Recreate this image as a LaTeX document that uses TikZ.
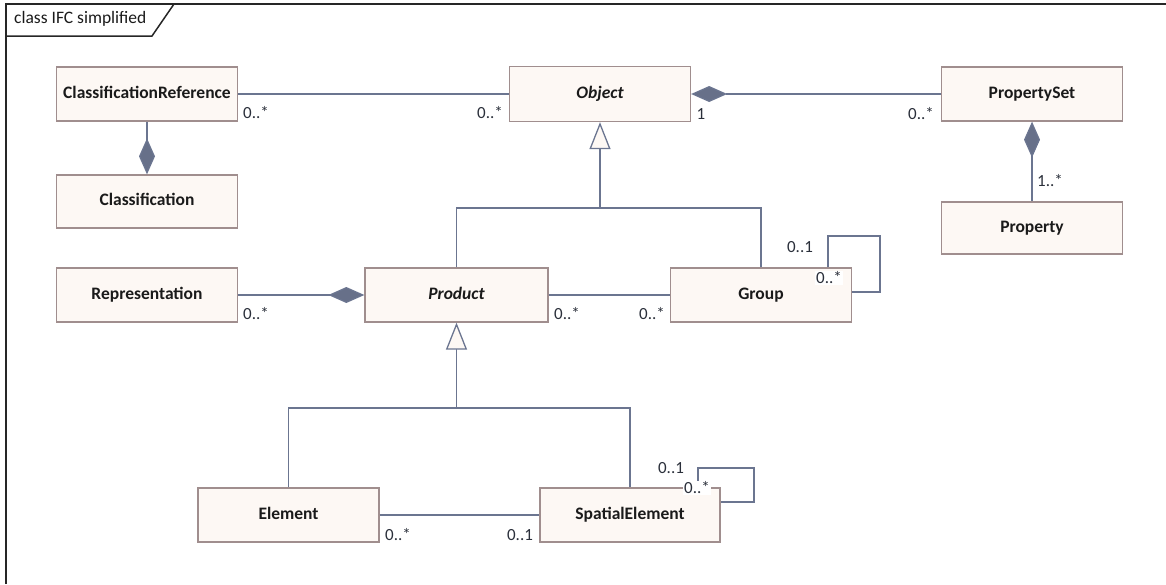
\documentclass[tikz,border=0pt]{standalone}
\usepackage{fontspec}
\setmainfont{Carlito}
\usetikzlibrary{arrows.meta}

\definecolor{boxfill}{HTML}{FDF8F4}
\definecolor{boxline}{HTML}{A08E8E}
\definecolor{linkcol}{HTML}{6B7590}
\definecolor{diamfill}{HTML}{677089}
\definecolor{txtcol}{HTML}{1A1A1A}
\definecolor{multcol}{HTML}{2A2F3A}

\tikzset{
  umlclass/.style={draw=boxline, fill=boxfill, line width=1.3pt, rectangle,
    minimum width=181pt, minimum height=54pt, inner sep=0pt,
    text height=12pt, text depth=3.5pt,
    font=\fontsize{17.5}{19}\selectfont\bfseries, text=txtcol},
  abstractclass/.style={umlclass, font=\fontsize{17.5}{19}\selectfont\bfseries\itshape},
  link/.style={draw=linkcol, line width=1.3pt},
  compo/.style={-{Diamond[length=36pt,width=16pt,fill=diamfill]}},
  compostart/.style={{Diamond[length=36pt,width=16pt,fill=diamfill]}-},
  gen/.style={-{Triangle[length=27pt,width=21pt,fill=boxfill]}},
  mult/.style={inner sep=1pt, font=\fontsize{17}{18}\selectfont, text=multcol},
  multbg/.style={mult, fill=white},
  frameline/.style={draw=black!85, line width=1.5pt}
}

\begin{document}
\begin{tikzpicture}[x=1pt, y=-1pt]
  \useasboundingbox (0,0) rectangle (1166,584);

  % diagram frame with its name tab
  \draw[frameline] (6,584) -- (6,4) -- (1166,4);
  \draw[frameline] (6,36) -- (152,36) -- (174,4);
  \node[anchor=west, inner sep=0pt, font=\fontsize{17.5}{19}\selectfont, text=txtcol] (title) at (14,19) {class IFC simplified};

  % classes
  \node[umlclass] (cr)   at (147,94)    {ClassificationReference};
  \node[abstractclass, minimum height=55pt] (obj) at (600,94) {Object};
  \node[umlclass] (ps)   at (1032,94)   {PropertySet};
  \node[umlclass, minimum height=52pt] (prop) at (1032,228) {Property};
  \node[umlclass, minimum height=53pt] (cls)  at (147,201.5) {Classification};
  \node[umlclass] (rep)  at (147,295)   {Representation};
  \node[abstractclass, minimum width=183pt] (prod) at (456.5,295) {Product};
  \node[umlclass] (grp)  at (761,295)   {Group};
  \node[umlclass] (el)   at (288.5,515) {Element};
  \node[umlclass, minimum width=180pt] (se) at (630,515) {SpatialElement};

  % associations and compositions
  \draw[link] (cr.east) -- (obj.west);
  \draw[link, compostart] (obj.east) -- (ps.west);
  \draw[link, compostart] (ps.south) -- (prop.north);
  \draw[link, compo] (cr.south) -- (cls.north);
  \draw[link, compo] (rep.east) -- (prod.west);
  \draw[link] (prod.east) -- (grp.west);
  \draw[link] (el.east) -- (se.west);

  % generalisations
  \coordinate (j1) at (600,208);
  \coordinate (j2) at (456.5,408);
  \draw[link] (prod.north) |- (j1);
  \draw[link] (grp.north) |- (j1);
  \draw[link, gen] (j1) -- (obj.south);
  \draw[link] (el.north) |- (j2);
  \draw[link] (se.north) |- (j2);
  \draw[link, gen] (j2) -- (prod.south);

  % self associations
  \coordinate (gloop) at (880,236);
  \draw[link] ([xshift=67pt]grp.north) |- (gloop) |- ([yshift=3pt]grp.east);
  \coordinate (sloop) at (754,468);
  \draw[link] ([xshift=68pt]se.north) |- (sloop) |- ([yshift=13pt]se.east);

  % multiplicities
  \node[mult] (m1)  at (256,113) {0..*};
  \node[mult] (m2)  at (490,113) {0..*};
  \node[mult] (m3)  at (701,114) {1};
  \node[mult] (m4)  at (921,114) {0..*};
  \node[mult] (m5)  at (1050,181) {1..*};
  \node[mult] (m6)  at (256,314) {0..*};
  \node[mult] (m7)  at (567,314) {0..*};
  \node[mult] (m8)  at (652,314) {0..*};
  \node[mult] (m9)  at (800,247) {0..1};
  \node[multbg] (m10) at (829,278) {0..*};
  \node[mult] (m11) at (398,535) {0..*};
  \node[mult] (m12) at (520,535) {0..1};
  \node[mult] (m13) at (671,468) {0..1};
  \node[multbg] (m14) at (697,488) {0..*};
\end{tikzpicture}
\end{document}
